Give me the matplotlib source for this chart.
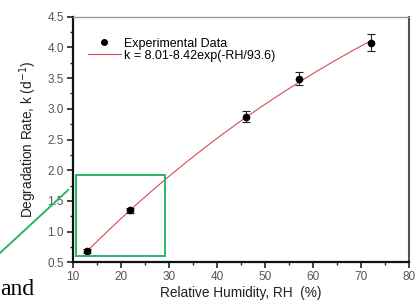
import matplotlib.pyplot as plt
import numpy as np
from matplotlib.lines import Line2D
from matplotlib.patches import Rectangle

# data
rh = [13, 22, 46, 57, 72]
rate = [0.69, 1.35, 2.87, 3.49, 4.08]
rate_err = [0.03, 0.04, 0.09, 0.11, 0.14]

# fit shown in the legend: k = a - b*exp(-RH/c)
fit_a = 8.01
fit_b = 8.42
fit_c = 93.6
fit_label = 'k = 8.01-8.42exp(-RH/93.6)'

plt.rcParams['font.family'] = ['Liberation Sans', 'DejaVu Sans']

fig = plt.figure(figsize=(4.18, 3.04), dpi=100)
ax = fig.add_axes([0.174, 0.137, 0.805, 0.808])

rh_fit = np.linspace(rh[0], rh[-1], 200)
ax.plot(rh_fit, fit_a - fit_b*np.exp(-rh_fit/fit_c), color='#d94a55', lw=0.8, zorder=2)
ax.errorbar(rh, rate, yerr=rate_err, fmt='o', color='black', ms=4.5,
            ecolor='#222222', elinewidth=0.8, capsize=3, capthick=0.8, zorder=3)

ax.set_xlim(10, 80)
ax.set_ylim(0.5, 4.5)
ax.set_xticks(np.arange(10, 81, 10))
ax.set_xticks(np.arange(15, 80, 10), minor=True)
ax.set_yticks(np.arange(0.5, 4.51, 0.5))
ax.set_yticks(np.arange(0.75, 4.5, 0.5), minor=True)
ax.set_yticklabels(['%.1f' % v for v in np.arange(0.5, 4.51, 0.5)])

ax.tick_params(which='major', direction='out', length=4, width=1.2, colors='#222222',
               labelcolor='#555555', labelsize=8.5, pad=2.5)
ax.tick_params(which='minor', direction='out', length=2.5, width=1.0, colors='#222222')
ax.tick_params(top=False, right=False, which='both')

ax.spines['left'].set_linewidth(1.6)
ax.spines['bottom'].set_linewidth(1.6)
ax.spines['left'].set_color('#111111')
ax.spines['bottom'].set_color('#111111')
ax.spines['top'].set_color('#999999')
ax.spines['top'].set_linewidth(1.0)
ax.spines['right'].set_color('#555555')
ax.spines['right'].set_linewidth(1.5)

ax.set_xlabel('Relative Humidity, RH  (%)', fontsize=9.8, color='#222222', labelpad=2)
ax.set_ylabel('Degradation Rate, k (d$^{-1}$)', fontsize=9.8, color='#222222', labelpad=6)

handles = [Line2D([], [], ls='none', marker='o', color='black', ms=4),
           Line2D([], [], color='#d94a55', lw=0.8)]
ax.legend(handles, ['Experimental Data', fit_label], loc='upper left',
          bbox_to_anchor=(0.02, 0.95), frameon=False, fontsize=9,
          handlelength=2.6, handletextpad=0.3, labelspacing=0.0, borderpad=0.2)

# green highlight box and pointer line
ax.add_patch(Rectangle((10.6, 0.6), 18.6, 1.33, fill=False, ec='#2bb36b', lw=1.4,
                       clip_on=False, zorder=4))
fig.add_artist(Line2D([0.0, 0.163], [1 - 253/304, 1 - 190/304], color='#2bb36b', lw=1.4))

fig.text(0.0, 0.012, 'and', family=['Liberation Serif', 'DejaVu Serif'],
         fontsize=17, color='black', ha='left', va='bottom')

fig.savefig('out.png', dpi=100)
